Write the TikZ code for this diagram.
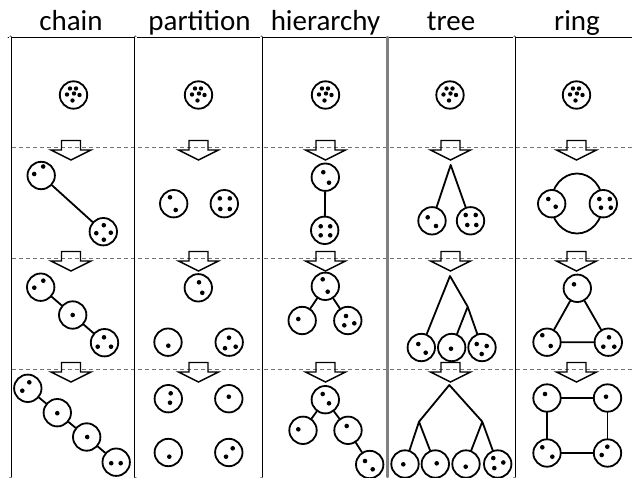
\documentclass[tikz,border=0pt]{standalone}
\usepackage{fontspec}
\setmainfont{Carlito}
\begin{document}
\begin{tikzpicture}[x=1pt, y=-1pt, line join=round, line cap=round,
	blob/.style={circle, draw, fill=white, line width=1.8pt, minimum size=27.4pt, inner sep=0pt},
	conn/.style={line width=1.8pt},
	dashrow/.style={gray!90!black, line width=0.9pt, dash pattern=on 4pt off 3pt, line cap=butt},
	downarrow/.style={line width=1.4pt, line join=miter},
	heading/.style={font=\fontsize{29}{31}\selectfont, anchor=base, inner sep=0pt}]
	\useasboundingbox (0,0) rectangle (632,477);
	% headings
	\foreach \x/\t [count=\i] in {71/chain,199.5/partition,325.5/hierarchy,451/tree,577/ring}
	\node[heading] (head\i) at (\x,30) {\t};
	% frame and stage lines
	\foreach \y in {147,258,369}
	\draw[dashrow] (12,\y) -- (632,\y);
	\draw[line width=0.9pt] (8,37) -- (632,37);
	\foreach \x in {10.2,135.7,261.2,514.2}
	\draw[double, double distance=1.6pt, line width=0.7pt] (\x,37) -- (\x,477);
	\draw[gray, line width=2.2pt] (387.5,37) -- (387.5,477);
	% arrows between stages
	\foreach \y in {147,258,369}
	\foreach \x in {71,198.5,325.5,450.5,576.5}
	\draw[downarrow] (\x-9.5,\y-6.5) -- (\x+9.5,\y-6.5) -- (\x+9.5,\y+3) -- (\x+20,\y+3)
	-- (\x,\y+13) -- (\x-20,\y+3) -- (\x-9.5,\y+3) -- cycle;
	% first stage
	\foreach \x [count=\i] in {73.5,198.5,325.5,450,576.5}
	\node[blob] (top\i) at (\x,95) {};
	% chain
	\path (41.2,175.5) node[blob] (ch1a) {}
	(103.3,231.7) node[blob] (ch1b) {}
	(40.7,287.2) node[blob] (ch2a) {}
	(72.7,315) node[blob] (ch2b) {}
	(104.5,342.7) node[blob] (ch2c) {}
	(27.8,388.3) node[blob] (ch3a) {}
	(57.3,412.7) node[blob] (ch3b) {}
	(86.7,437) node[blob] (ch3c) {}
	(116.2,462.2) node[blob] (ch3d) {};
	\draw[conn] (ch1a) -- (ch1b);
	\draw[conn] (ch2a) -- (ch2b) -- (ch2c);
	\draw[conn] (ch3a) -- (ch3b) -- (ch3c) -- (ch3d);
	% partition
	\path (173.7,203.7) node[blob] (pa1a) {}
	(224.3,203.7) node[blob] (pa1b) {}
	(198.3,287.8) node[blob] (pa2a) {}
	(168,342.2) node[blob] (pa2b) {}
	(229.2,342.2) node[blob] (pa2c) {}
	(168.3,398.7) node[blob] (pa3a) {}
	(228.8,398.7) node[blob] (pa3b) {}
	(168.3,452.5) node[blob] (pa3c) {}
	(228.8,452.5) node[blob] (pa3d) {};
	% hierarchy
	\path (325.3,177.2) node[blob] (hi1a) {}
	(324.7,230.3) node[blob] (hi1b) {}
	(325.3,286.3) node[blob] (hi2a) {}
	(302.2,320.5) node[blob] (hi2b) {}
	(347.8,320.5) node[blob] (hi2c) {}
	(325.3,399.7) node[blob] (hi3a) {}
	(303,430.3) node[blob] (hi3b) {}
	(348,430.3) node[blob] (hi3c) {}
	(369.7,464.5) node[blob] (hi3d) {};
	\draw[conn] (hi1a) -- (hi1b);
	\draw[conn] (hi2b) -- (hi2a) -- (hi2c);
	\draw[conn] (hi3b) -- (hi3a) -- (hi3c) -- (hi3d);
	% tree
	\path (450.7,165) coordinate (tr1r)
	(450,276) coordinate (tr2r)
	(467.7,306.7) coordinate (tr2j)
	(449.3,385) coordinate (tr3r)
	(419,421.7) coordinate (tr3j)
	(482.3,421.7) coordinate (tr3k);
	\path (432,220.8) node[blob] (tr1a) {}
	(470.5,220.8) node[blob] (tr1b) {}
	(421.3,347.5) node[blob] (tr2a) {}
	(451.7,347.5) node[blob] (tr2b) {}
	(482,347.5) node[blob] (tr2c) {}
	(405,464) node[blob] (tr3a) {}
	(435.3,464) node[blob] (tr3b) {}
	(466,464) node[blob] (tr3c) {}
	(497.7,464) node[blob] (tr3d) {};
	\draw[conn] (tr1a) -- (tr1r) -- (tr1b);
	\draw[conn] (tr2a) -- (tr2r) -- (tr2j) -- (tr2c) (tr2j) -- (tr2b);
	\draw[conn] (tr3j) -- (tr3r) -- (tr3k);
	\draw[conn] (tr3a) -- (tr3j) -- (tr3b) (tr3c) -- (tr3k) -- (tr3d);
	% ring
	\path (577,203.5) coordinate (ri1o);
	\draw[conn] (ri1o) ellipse (26pt and 30pt);
	\path (551.7,203.7) node[blob] (ri1a) {}
	(603.3,203.7) node[blob] (ri1b) {}
	(577.3,288.3) node[blob] (ri2a) {}
	(547,342.2) node[blob] (ri2b) {}
	(608.3,342.2) node[blob] (ri2c) {}
	(547,398) node[blob] (ri3a) {}
	(607.5,398) node[blob] (ri3b) {}
	(547,453) node[blob] (ri3c) {}
	(607.5,453) node[blob] (ri3d) {};
	\draw[conn] (ri2a) -- (ri2b) -- (ri2c) -- (ri2a);
	\draw[conn] (ri3a) -- (ri3b) -- (ri3d) -- (ri3c) -- (ri3a);
	% members
	\foreach \i in {1,...,5}
	\foreach \dx/\dy in {-3.5/-6.5,2.5/-6.5,-6.5/-0.5,0.5/-1.5,6/0,-1/5.5}
	\fill ([shift={(\dx,\dy)}]top\i.center) circle (2.2pt);
	\foreach \n/\dx/\dy in {ch1a/-7/-1.5, ch1a/2/-9, ch1b/0.5/-6.5, ch1b/-7/1.5, ch1b/7.5/1, ch1b/0.5/8,
		ch2a/2.6/-6.5, ch2a/-6.4/0.5, ch2b/0/0, ch2c/-0.5/-5.4, ch2c/-6.8/4, ch2c/6.5/4,
		ch3a/1.5/-6, ch3a/-5.5/2.4, ch3b/0/0.5, ch3c/0.5/0, ch3d/-5/1, ch3d/4.5/1,
		pa1a/-3.7/-6.4, pa1a/2/6.3, pa1b/-4.5/-5.3, pa1b/5.5/-5.3, pa1b/-4/5.3, pa1b/5.5/5.3,
		pa2a/0.7/-5.5, pa2a/4/5, pa2b/0.3/3.5, pa2c/-0.2/-4.5, pa2c/-4.2/6, pa2c/6.5/4.5,
		pa3a/2.4/-5.4, pa3a/1.7/4, pa3b/0/-2, pa3c/1/4.2, pa3d/3.9/-4.2, pa3d/-2.8/4.2,
		hi1a/-2/-5, hi1a/3.7/5.5, hi1b/-4/-4, hi1b/5.5/-4, hi1b/-4/5, hi1b/5.5/5,
		hi2a/-2.6/-7, hi2a/2.4/5.4, hi2b/-3.9/-1.5, hi2c/-1.8/-4.5, hi2c/-3.5/4.8, hi2c/6.5/2.8,
		hi3a/-2.6/-5.7, hi3a/3.7/3.6, hi3b/-4.7/-1, hi3c/-1.3/-4.3, hi3d/-4.7/-3.5, hi3d/3/4.8,
		tr1a/-4.3/-3.5, tr1a/4/5.2, tr1b/-4.8/-5.8, tr1b/5.2/-5.8, tr1b/-3.2/4.2, tr1b/5.8/4.2,
		tr2a/-3/-3.5, tr2a/4.4/5.2, tr2b/-0.7/1.2, tr2c/-5.3/-3.5, tr2c/4.7/-1.5, tr2c/-0.3/6.5,
		tr3a/-1.7/0.3, tr3b/1.4/-0.7, tr3c/-0.3/2.7, tr3d/-4.4/-5.9, tr3d/5.6/-1.5, tr3d/-3.4/4.1,
		ri1a/-3.4/-4.7, ri1a/4/3, ri1b/-4/-4.7, ri1b/6.5/-4.7, ri1b/-2.3/4, ri1b/7.5/4,
		ri2a/-3.3/-4, ri2b/-4.7/-7, ri2b/3.7/3.8, ri2c/0.7/-4.9, ri2c/-5/4.5, ri2c/6/4.5,
		ri3a/-2/-4, ri3b/-1.5/-1.3, ri3c/-4.7/-5.7, ri3c/5.3/3.7, ri3d/-0.2/-6.3, ri3d/-5.8/2}
	\fill ([shift={(\dx,\dy)}]\n.center) circle (2.3pt);
\end{tikzpicture}
\end{document}
